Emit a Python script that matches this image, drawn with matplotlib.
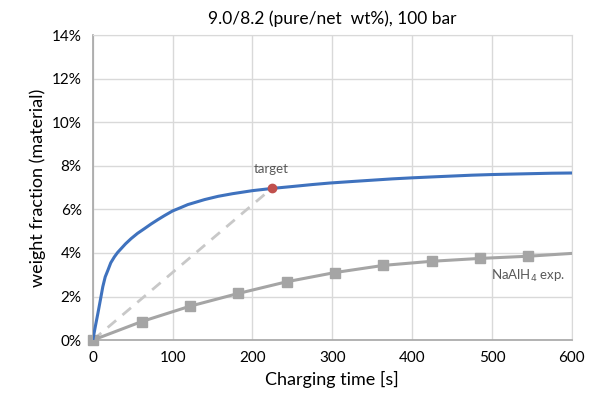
import numpy as np
import matplotlib.pyplot as plt
from matplotlib.ticker import FuncFormatter

plt.rcParams["font.family"] = ["Lato", "DejaVu Sans"]

# model curve (blue)
t_model = [0, 3, 6.3, 9.5, 12.5, 15.5, 18.8, 22.5, 27, 31, 35.5, 41, 48, 56, 64.8, 73, 81.5, 90,
           100, 110, 119, 130, 140, 157, 175, 200, 224, 250, 275, 297, 325, 350, 375, 401,
           425, 450, 475, 501, 525, 550, 575, 600]
wt_model = [0.0, 0.6, 1.22, 1.85, 2.45, 2.9, 3.2, 3.55, 3.82, 4.02, 4.2, 4.42, 4.66, 4.9, 5.12,
            5.33, 5.53, 5.72, 5.93, 6.08, 6.22, 6.34, 6.45, 6.6, 6.72, 6.86, 6.96, 7.05, 7.14,
            7.21, 7.28, 7.34, 7.4, 7.45, 7.49, 7.53, 7.57, 7.6, 7.62, 7.64, 7.66, 7.67]

# NaAlH4 experiment (gray)
t_exp = [0, 61, 122, 182, 243, 303, 364, 425, 485, 545]
wt_exp = [0.0, 0.85, 1.56, 2.14, 2.68, 3.1, 3.43, 3.62, 3.75, 3.85]
t_exp_end = 600
wt_exp_end = 3.98

# target
t_target = 224
wt_target = 6.96

fig = plt.figure(figsize=(5.95, 4.03), dpi=100)
ax = fig.add_axes([0.156, 0.156, 0.805, 0.757])

grid_c = "#d9d9d9"
ax.plot([0, t_target], [0, wt_target], "--", color="#c8c8c8", lw=2, dashes=(4, 3), zorder=2)
ax.plot(t_exp + [t_exp_end], wt_exp + [wt_exp_end], "-", color="#a5a5a5", lw=2.2, zorder=3)
ax.plot(t_exp, wt_exp, "s", color="#a5a5a5", ms=7, zorder=4, clip_on=False)
ax.plot(t_model, wt_model, "-", color="#3f72be", lw=2.2, zorder=5)
ax.plot([t_target], [wt_target], "o", color="#c0504d", ms=6, zorder=6)

ax.text(t_target, wt_target + 0.6, "target", ha="center", va="bottom", fontsize=9.5, color="#595959")
ax.text(545, 3.3, r"NaAlH$_4$ exp.", ha="center", va="top", fontsize=9.5, color="#595959")

ax.set_xlim(0, 600)
ax.set_ylim(0, 14)
ax.set_xticks(np.arange(0, 601, 100))
ax.set_yticks(np.arange(0, 15, 2))
ax.yaxis.set_major_formatter(FuncFormatter(lambda v, p: "{:.0f}%".format(v)))
ax.grid(True, color=grid_c, lw=1)
ax.set_axisbelow(True)
for s in ["top", "right"]:
    ax.spines[s].set_color(grid_c)
for s in ["left", "bottom"]:
    ax.spines[s].set_color("#a6a6a6")
    ax.spines[s].set_linewidth(1.2)
ax.tick_params(length=0, labelsize=11, colors="#000000", pad=8)

ax.set_xlabel("Charging time [s]", fontsize=13)
ax.set_ylabel("weight fraction (material)", fontsize=13)
ax.set_title("9.0/8.2 (pure/net  wt%), 100 bar", fontsize=12.5, pad=8)

fig.savefig("out.png", dpi=100)
